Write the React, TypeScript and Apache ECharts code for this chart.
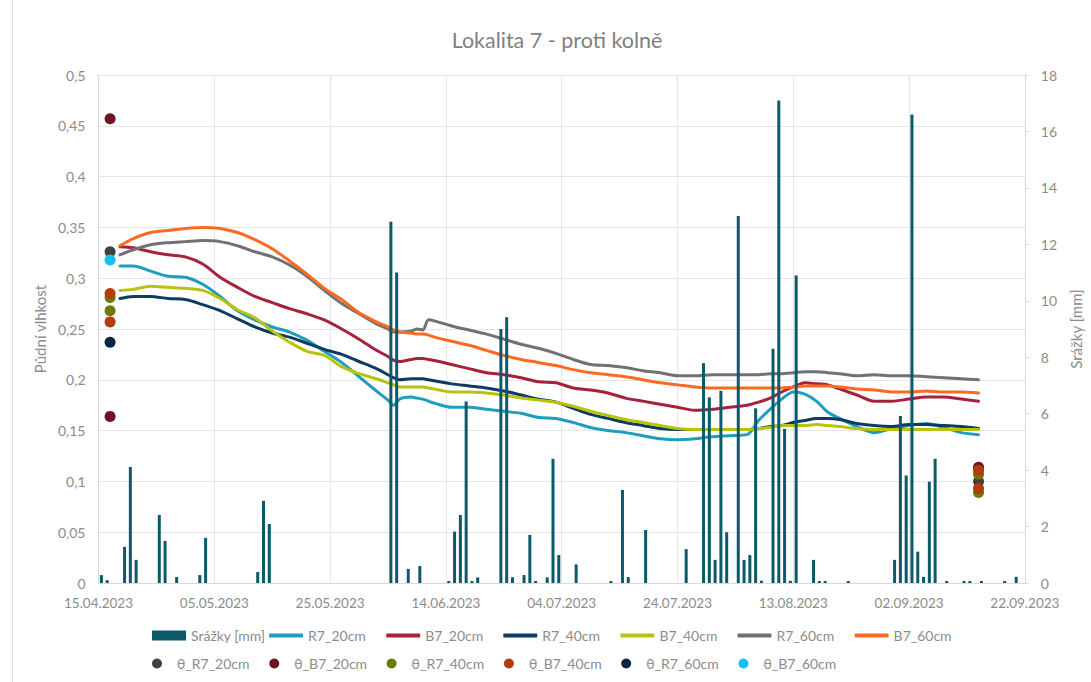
import React, { useEffect, useRef } from "react";
import * as echarts from "echarts";

const TITLE = "Lokalita 7 - proti kolně";
const LEFT_AXIS_NAME = "Půdní vlhkost";
const RIGHT_AXIS_NAME = "Srážky [mm]";
const X_START = "2023-04-15";
const X_SPAN_DAYS = 160;
const X_STEP_DAYS = 20;
const LEFT_MAX = 0.5;
const LEFT_STEP = 0.05;
const RIGHT_MAX = 18;
const RIGHT_STEP = 2;

const lineDates = [
  "2023-04-18 17:00", "2023-04-21", "2023-04-24", "2023-04-27", "2023-04-30", "2023-05-03", "2023-05-06",
  "2023-05-09", "2023-05-12", "2023-05-15", "2023-05-18", "2023-05-21", "2023-05-24", "2023-05-27",
  "2023-05-30", "2023-06-02", "2023-06-04", "2023-06-05", "2023-06-06", "2023-06-08", "2023-06-09",
  "2023-06-10", "2023-06-11", "2023-06-12", "2023-06-15", "2023-06-18", "2023-06-21", "2023-06-24",
  "2023-06-27", "2023-06-30", "2023-07-03", "2023-07-06", "2023-07-09", "2023-07-12", "2023-07-15",
  "2023-07-18", "2023-07-21", "2023-07-24", "2023-07-27", "2023-07-30", "2023-08-02", "2023-08-05",
  "2023-08-07", "2023-08-09", "2023-08-11", "2023-08-13", "2023-08-15", "2023-08-17", "2023-08-19",
  "2023-08-21", "2023-08-24", "2023-08-27", "2023-08-30", "2023-09-02", "2023-09-05", "2023-09-08",
  "2023-09-11", "2023-09-14",
];

const R7_20cm = [
  0.312, 0.312, 0.307, 0.302, 0.301, 0.294, 0.282, 0.268, 0.259, 0.252, 0.247, 0.239, 0.228, 0.217,
  0.203, 0.189, 0.180, 0.175, 0.181, 0.183, 0.182, 0.181, 0.179, 0.177, 0.173, 0.173, 0.171, 0.169,
  0.167, 0.163, 0.162, 0.158, 0.153, 0.150, 0.148, 0.145, 0.142, 0.141, 0.142, 0.144, 0.145, 0.146,
  0.160, 0.171, 0.181, 0.188, 0.186, 0.179, 0.168, 0.162, 0.154, 0.148, 0.152, 0.155, 0.157, 0.153,
  0.148, 0.146,
];
const B7_20cm = [
  0.331, 0.330, 0.326, 0.323, 0.321, 0.314, 0.301, 0.291, 0.282, 0.276, 0.270, 0.265, 0.259, 0.250,
  0.240, 0.229, 0.223, 0.219, 0.218, 0.220, 0.221, 0.221, 0.220, 0.219, 0.215, 0.211, 0.207, 0.205,
  0.202, 0.198, 0.197, 0.192, 0.190, 0.187, 0.182, 0.179, 0.176, 0.173, 0.170, 0.171, 0.173, 0.175,
  0.178, 0.182, 0.188, 0.193, 0.197, 0.196, 0.195, 0.191, 0.185, 0.179, 0.179, 0.181, 0.183, 0.183,
  0.181, 0.179,
];
const R7_40cm = [
  0.280, 0.282, 0.282, 0.280, 0.279, 0.274, 0.268, 0.260, 0.252, 0.246, 0.242, 0.236, 0.230, 0.225,
  0.218, 0.211, 0.205, 0.202, 0.200, 0.201, 0.201, 0.201, 0.200, 0.199, 0.196, 0.194, 0.192, 0.189,
  0.185, 0.181, 0.178, 0.172, 0.166, 0.162, 0.158, 0.155, 0.152, 0.151, 0.151, 0.151, 0.151, 0.151,
  0.152, 0.154, 0.155, 0.158, 0.160, 0.162, 0.162, 0.161, 0.157, 0.155, 0.154, 0.156, 0.156, 0.155,
  0.154, 0.152,
];
const B7_40cm = [
  0.288, 0.289, 0.292, 0.291, 0.290, 0.288, 0.280, 0.269, 0.261, 0.248, 0.237, 0.228, 0.224, 0.213,
  0.206, 0.201, 0.197, 0.195, 0.193, 0.193, 0.193, 0.193, 0.192, 0.191, 0.188, 0.188, 0.187, 0.185,
  0.182, 0.180, 0.178, 0.174, 0.169, 0.165, 0.161, 0.158, 0.155, 0.152, 0.151, 0.151, 0.151, 0.151,
  0.152, 0.153, 0.155, 0.155, 0.155, 0.156, 0.155, 0.154, 0.152, 0.151, 0.151, 0.151, 0.151, 0.151,
  0.151, 0.151,
];
const R7_60cm = [
  0.323, 0.328, 0.333, 0.335, 0.336, 0.337, 0.336, 0.332, 0.326, 0.321, 0.313, 0.302, 0.288, 0.275,
  0.265, 0.255, 0.250, 0.247, 0.247, 0.248, 0.250, 0.249, 0.259, 0.258, 0.253, 0.249, 0.245, 0.240,
  0.235, 0.231, 0.226, 0.220, 0.215, 0.214, 0.212, 0.209, 0.207, 0.204, 0.204, 0.205, 0.205, 0.205,
  0.205, 0.206, 0.206, 0.207, 0.208, 0.208, 0.207, 0.206, 0.204, 0.205, 0.204, 0.204, 0.203, 0.202,
  0.201, 0.200,
];
const B7_60cm = [
  0.332, 0.339, 0.345, 0.347, 0.349, 0.350, 0.349, 0.345, 0.338, 0.329, 0.317, 0.304, 0.290, 0.279,
  0.266, 0.257, 0.252, 0.249, 0.247, 0.246, 0.245, 0.245, 0.244, 0.242, 0.238, 0.234, 0.229, 0.224,
  0.220, 0.217, 0.214, 0.210, 0.207, 0.205, 0.203, 0.200, 0.197, 0.195, 0.193, 0.192, 0.192, 0.192,
  0.192, 0.192, 0.192, 0.193, 0.194, 0.194, 0.194, 0.193, 0.191, 0.190, 0.188, 0.188, 0.189, 0.188,
  0.188, 0.187,
];

const rainDates = [
  "2023-04-15", "2023-04-16", "2023-04-19", "2023-04-20", "2023-04-21", "2023-04-25", "2023-04-26",
  "2023-04-28", "2023-05-02", "2023-05-03", "2023-05-12", "2023-05-13", "2023-05-14", "2023-06-04",
  "2023-06-05", "2023-06-07", "2023-06-09", "2023-06-14", "2023-06-15", "2023-06-16", "2023-06-17",
  "2023-06-18", "2023-06-19", "2023-06-23", "2023-06-24", "2023-06-25", "2023-06-27", "2023-06-28",
  "2023-06-29", "2023-07-01", "2023-07-02", "2023-07-03", "2023-07-06", "2023-07-12", "2023-07-14",
  "2023-07-15", "2023-07-18", "2023-07-25", "2023-07-28", "2023-07-29", "2023-07-30", "2023-07-31",
  "2023-08-01", "2023-08-03", "2023-08-04", "2023-08-05", "2023-08-06", "2023-08-07", "2023-08-09",
  "2023-08-10", "2023-08-11", "2023-08-12", "2023-08-13", "2023-08-16", "2023-08-17", "2023-08-18",
  "2023-08-22", "2023-08-30", "2023-08-31", "2023-09-01", "2023-09-02", "2023-09-03", "2023-09-04",
  "2023-09-05", "2023-09-06", "2023-09-08", "2023-09-11", "2023-09-12", "2023-09-14", "2023-09-18",
  "2023-09-20",
];
const rainMm = [
  0.28, 0.1, 1.28, 4.11, 0.82, 2.41, 1.49,
  0.21, 0.28, 1.6, 0.39, 2.91, 2.09, 12.8,
  11.0, 0.5, 0.6, 0.07, 1.82, 2.41, 6.43,
  0.07, 0.2, 9.0, 9.42, 0.2, 0.28, 1.7,
  0.07, 0.2, 4.4, 0.99, 0.66, 0.07, 3.3,
  0.21, 1.88, 1.2, 7.79, 6.58, 0.82, 6.81,
  1.8, 13.0, 0.82, 0.99, 6.19, 0.08, 8.3,
  17.1, 5.46, 0.08, 10.9, 0.82, 0.07, 0.07,
  0.07, 0.82, 5.92, 3.81, 16.6, 1.11, 0.22,
  3.59, 4.4, 0.07, 0.07, 0.07, 0.07, 0.07,
  0.22,
];

const thetaR7_20Dates = ["2023-04-17", "2023-09-14"];
const thetaR7_20 = [0.326, 0.1];
const thetaB7_20Dates = ["2023-04-17", "2023-04-17", "2023-09-14"];
const thetaB7_20 = [0.457, 0.164, 0.114];
const thetaR7_40Dates = ["2023-04-17", "2023-04-17", "2023-09-14", "2023-09-14"];
const thetaR7_40 = [0.281, 0.268, 0.107, 0.089];
const thetaB7_40Dates = ["2023-04-17", "2023-04-17", "2023-09-14", "2023-09-14"];
const thetaB7_40 = [0.285, 0.257, 0.111, 0.093];
const thetaR7_60Dates = ["2023-04-17"];
const thetaR7_60 = [0.237];
const thetaB7_60Dates = ["2023-04-17"];
const thetaB7_60 = [0.318];

const FONT = "Lato, 'Open Sans', sans-serif";
const TXT = "#8c8c8c";
const GRID = "#e6e6e6";
const AXIS = "#d9d9d9";

const DAY_MS = 86400000;
const parse = (s: string) => {
  const [d, t] = s.split(" ");
  const [y, m, dd] = d.split("-").map(Number);
  let h = 0;
  if (t) {
    const [hh, mm] = t.split(":").map(Number);
    h = hh + mm / 60;
  }
  return Date.UTC(y, m - 1, dd) + h * 3600000;
};
const START_MS = parse(X_START);
const dayOf = (s: string) => (parse(s) - START_MS) / DAY_MS;
const fmtDate = (v: number) => {
  const dt = new Date(START_MS + Math.round(v) * DAY_MS);
  const p = (n: number) => String(n).padStart(2, "0");
  return `${p(dt.getUTCDate())}.${p(dt.getUTCMonth() + 1)}.${dt.getUTCFullYear()}`;
};

const lineSeries = [
  { name: "R7_20cm", data: R7_20cm, color: "#1f9dc1" },
  { name: "B7_20cm", data: B7_20cm, color: "#a6213c" },
  { name: "R7_40cm", data: R7_40cm, color: "#0d3b66" },
  { name: "B7_40cm", data: B7_40cm, color: "#b9c20c" },
  { name: "R7_60cm", data: R7_60cm, color: "#717171" },
  { name: "B7_60cm", data: B7_60cm, color: "#fc6a22" },
];
const thetaSeries = [
  { name: "θ_R7_20cm", dates: thetaR7_20Dates, data: thetaR7_20, color: "#404040" },
  { name: "θ_B7_20cm", dates: thetaB7_20Dates, data: thetaB7_20, color: "#6b1322" },
  { name: "θ_R7_40cm", dates: thetaR7_40Dates, data: thetaR7_40, color: "#6e7a06" },
  { name: "θ_B7_40cm", dates: thetaB7_40Dates, data: thetaB7_40, color: "#b23c0a" },
  { name: "θ_R7_60cm", dates: thetaR7_60Dates, data: thetaR7_60, color: "#0b2541" },
  { name: "θ_B7_60cm", dates: thetaB7_60Dates, data: thetaB7_60, color: "#12c1ee" },
];

export default function App() {
  const ref = useRef<HTMLDivElement>(null);
  useEffect(() => {
    if (!ref.current) return;
    const chart = echarts.init(ref.current, undefined, { renderer: "svg" });
    const series: any[] = [];
    series.push({
      name: RIGHT_AXIS_NAME,
      type: "bar",
      yAxisIndex: 1,
      data: rainDates.map((d, i) => [dayOf(d) + 0.5, rainMm[i]]),
      barWidth: 3,
      itemStyle: { color: "#0b5a6a" },
      z: 3,
    });
    lineSeries.forEach((s) => {
      series.push({
        name: s.name,
        type: "line",
        yAxisIndex: 0,
        data: lineDates.map((d, i) => [dayOf(d), s.data[i]]),
        symbol: "none",
        showSymbol: false,
        smooth: 0.3,
        lineStyle: { width: 3, color: s.color, cap: "round" },
        itemStyle: { color: s.color },
        z: 2,
      });
    });
    thetaSeries.forEach((s) => {
      series.push({
        name: s.name,
        type: "scatter",
        yAxisIndex: 0,
        data: s.dates.map((d, i) => [dayOf(d), s.data[i]]),
        symbol: "circle",
        symbolSize: 11,
        itemStyle: { color: s.color, opacity: 1 },
        z: 4,
      });
    });

    const legendText = { color: TXT, fontSize: 14, fontFamily: FONT };
    const row1Names = [RIGHT_AXIS_NAME, ...lineSeries.map((s) => s.name)];
    const row2Names = thetaSeries.map((s) => s.name);
    const legends: any[] = [];
    row1Names.forEach((n, i) => {
      legends.push({
        data: [n],
        left: 152 + i * 117.1,
        top: 628.5,
        padding: 0,
        itemWidth: 34,
        itemHeight: i === 0 ? 10 : 4,
        icon: i === 0 ? "rect" : "roundRect",
        selectedMode: false,
        textStyle: legendText,
      });
    });
    row2Names.forEach((n, i) => {
      legends.push({
        data: [n],
        left: 152 + i * 117.3,
        top: 656.5,
        padding: 0,
        itemWidth: 30,
        itemHeight: 10,
        icon: "circle",
        selectedMode: false,
        textStyle: legendText,
      });
    });

    chart.setOption({
      animation: false,
      backgroundColor: "#ffffff",
      textStyle: { fontFamily: FONT },
      grid: { left: 98.5, right: 63.5, top: 75, bottom: 99, containLabel: false },
      graphic: [
        {
          type: "text",
          x: 557,
          y: 40,
          style: {
            text: TITLE,
            align: "center",
            verticalAlign: "middle",
            fontSize: 21.5,
            fontFamily: FONT,
            fill: "#7f7f7f",
          },
        },
        {
          type: "line",
          shape: { x1: 12.5, y1: 0, x2: 12.5, y2: 682 },
          style: { stroke: AXIS, lineWidth: 1 },
        },
      ],
      legend: legends,
      xAxis: {
        type: "value",
        min: 0,
        max: X_SPAN_DAYS,
        interval: X_STEP_DAYS,
        axisLine: { show: true, lineStyle: { color: AXIS } },
        axisTick: { show: false },
        axisLabel: { color: TXT, fontSize: 13.5, fontFamily: FONT, margin: 13, formatter: fmtDate },
        splitLine: { show: true, lineStyle: { color: GRID, width: 1 } },
      },
      yAxis: [
        {
          type: "value",
          min: 0,
          max: LEFT_MAX,
          interval: LEFT_STEP,
          position: "left",
          name: LEFT_AXIS_NAME,
          nameLocation: "middle",
          nameGap: 43,
          nameTextStyle: { color: TXT, fontSize: 15, fontFamily: FONT },
          axisLine: { show: true, lineStyle: { color: AXIS } },
          axisTick: { show: false },
          axisLabel: {
            color: TXT,
            fontSize: 14,
            fontFamily: FONT,
            margin: 13,
            formatter: (v: number) => (v === 0 ? "0" : String(Math.round(v * 100) / 100).replace(".", ",")),
          },
          splitLine: { show: true, lineStyle: { color: GRID, width: 1 } },
        },
        {
          type: "value",
          min: 0,
          max: RIGHT_MAX,
          interval: RIGHT_STEP,
          position: "right",
          name: RIGHT_AXIS_NAME,
          nameLocation: "middle",
          nameGap: 35,
          nameTextStyle: { color: TXT, fontSize: 15, fontFamily: FONT },
          axisLine: { show: true, lineStyle: { color: AXIS } },
          axisTick: { show: true, length: 4, inside: false, lineStyle: { color: AXIS } },
          axisLabel: { color: TXT, fontSize: 14, fontFamily: FONT, margin: 16 },
          splitLine: { show: false },
        },
      ],
      series,
    });
    return () => chart.dispose();
  }, []);
  return (
    <div
      ref={ref}
      style={{ position: "absolute", left: 0, top: 0, width: 1091, height: 682, background: "#fff" }}
    />
  );
}
